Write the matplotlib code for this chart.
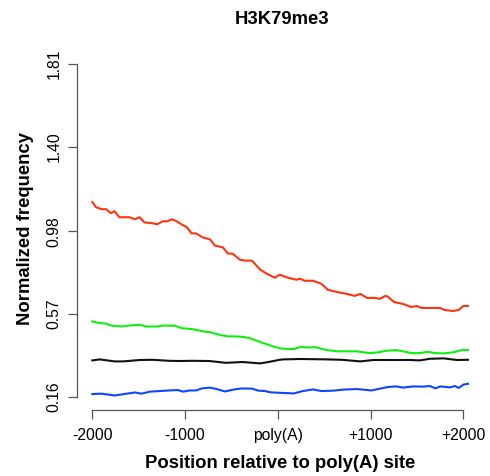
import matplotlib as mpl
mpl.use('Agg')
import matplotlib.pyplot as plt
import numpy as np

mpl.rcParams['font.family'] = ['Liberation Sans', 'DejaVu Sans']

# positions (bp relative to poly(A) site) and normalized frequencies
red_x = [-2000, -1960, -1900, -1850, -1800, -1760, -1710, -1600, -1540, -1490,
         -1440, -1350, -1300, -1240, -1190, -1140, -1090, -1040, -980, -930,
         -880, -810, -730, -680, -590, -540, -490, -410, -360, -280,
         -190, -120, -30, 20, 110, 200, 240, 290, 380, 470,
         540, 630, 740, 830, 890, 960, 1050, 1100, 1160, 1190,
         1250, 1350, 1440, 1500, 1550, 1640, 1750, 1800, 1890, 1950,
         2000, 2050]
red_y = [1.125, 1.10, 1.09, 1.09, 1.07, 1.08, 1.05, 1.05, 1.04, 1.05,
         1.025, 1.02, 1.015, 1.03, 1.03, 1.04, 1.03, 1.015, 1.00, 0.97,
         0.97, 0.95, 0.94, 0.91, 0.90, 0.87, 0.87, 0.84, 0.835, 0.835,
         0.79, 0.77, 0.75, 0.765, 0.75, 0.74, 0.745, 0.735, 0.735, 0.72,
         0.69, 0.68, 0.67, 0.66, 0.67, 0.65, 0.65, 0.645, 0.66, 0.655,
         0.63, 0.62, 0.605, 0.61, 0.60, 0.60, 0.60, 0.59, 0.585, 0.59,
         0.61, 0.61]

green_x = [-2000, -1920, -1850, -1800, -1690, -1600, -1490, -1420, -1300, -1240,
           -1110, -1040, -920, -810, -720, -630, -540, -450, -360, -280,
           -190, -90, -50, 20, 60, 170, 240, 350, 400, 530,
           650, 850, 990, 1080, 1170, 1280, 1350, 1440, 1530, 1610,
           1700, 1790, 1890, 2000, 2050]
green_y = [0.533, 0.525, 0.522, 0.513, 0.508, 0.513, 0.517, 0.508, 0.508, 0.513,
           0.512, 0.500, 0.495, 0.484, 0.479, 0.467, 0.459, 0.459, 0.456, 0.447,
           0.431, 0.416, 0.409, 0.400, 0.398, 0.396, 0.406, 0.404, 0.406, 0.391,
           0.385, 0.385, 0.376, 0.380, 0.388, 0.391, 0.385, 0.376, 0.376, 0.383,
           0.376, 0.375, 0.380, 0.393, 0.391]

black_x = [-2000, -1920, -1760, -1670, -1490, -1350, -1170, -1060, -920, -740,
           -560, -380, -190, -90, 20, 60, 240, 530, 690, 890,
           1030, 1250, 1420, 1530, 1640, 1790, 1930, 2050]
black_y = [0.340, 0.345, 0.335, 0.335, 0.342, 0.343, 0.338, 0.337, 0.338, 0.337,
           0.328, 0.332, 0.325, 0.333, 0.343, 0.345, 0.347, 0.345, 0.343, 0.335,
           0.342, 0.342, 0.342, 0.340, 0.348, 0.350, 0.342, 0.343]

blue_x = [-2000, -1900, -1760, -1630, -1540, -1470, -1380, -1270, -1170, -1080,
          -1020, -950, -880, -820, -730, -660, -570, -480, -390, -280,
          -210, -140, -70, -50, 170, 270, 380, 470, 600, 700,
          850, 1010, 1100, 1190, 1280, 1350, 1460, 1570, 1640, 1700,
          1750, 1860, 1910, 1950, 2000, 2050]
blue_y = [0.173, 0.175, 0.166, 0.175, 0.181, 0.175, 0.185, 0.188, 0.191, 0.193,
          0.185, 0.191, 0.191, 0.201, 0.205, 0.198, 0.186, 0.195, 0.201, 0.200,
          0.190, 0.188, 0.181, 0.181, 0.176, 0.188, 0.196, 0.188, 0.190, 0.195,
          0.198, 0.191, 0.200, 0.208, 0.211, 0.205, 0.211, 0.210, 0.213, 0.201,
          0.211, 0.206, 0.213, 0.203, 0.220, 0.224]

xticks = [-2000, -1000, 0, 1000, 2000]
xticklabels = ['-2000', '-1000', 'poly(A)', '+1000', '+2000']
yticks = [0.16, 0.57, 0.98, 1.40, 1.81]
yticklabels = ['0.16', '0.57', '0.98', '1.40', '1.81']

fig = plt.figure(figsize=(4.9, 4.76), dpi=100)
ax = fig.add_axes([77.3/490, 66.0/476, (483.0-77.3)/490, (410.0-50.7)/476])

series = [(red_x, red_y, '#ff3311'), (green_x, green_y, '#11ee11'),
          (black_x, black_y, '#111111'), (blue_x, blue_y, '#1144ff')]
for xs, ys, col in series:
    l, = ax.plot(xs, ys)
    plt.setp(l, color=col, linewidth=1.5, solid_joinstyle='round')

# R-like 4% padding around data range
ax.set_xlim(-2000 - 0.04*4050, 2050 + 0.04*4050)
ax.set_ylim(0.16 - 0.04*1.65, 1.81 + 0.04*1.65)

for s in ['top', 'right']:
    ax.spines[s].set_visible(False)
for s in ['left', 'bottom']:
    ax.spines[s].set_color('#555555')
    ax.spines[s].set_linewidth(0.9)
ax.spines['bottom'].set_bounds(-2000, 2000)
ax.spines['left'].set_bounds(0.16, 1.81)

ax.set_xticks(xticks)
ax.set_xticklabels(xticklabels)
ax.set_yticks(yticks)
ax.set_yticklabels(yticklabels, rotation=90, va='center')
ax.tick_params(axis='both', length=6.5, width=0.9, color='#555555', labelsize=11.3)
ax.tick_params(axis='x', pad=6.5)
ax.tick_params(axis='y', pad=5)

fig.text(282/490, 1 - 20/476, 'H3K79me3', ha='center', va='center', fontsize=13.3, fontweight='bold')
fig.text(280/490, 1 - 463/476, 'Position relative to poly(A) site', ha='center', va='center',
         fontsize=13.3, fontweight='bold')
fig.text(26/490, 1 - 229/476, 'Normalized frequency', ha='center', va='center', rotation=90,
         fontsize=13.3, fontweight='bold')

plt.savefig('out.png', dpi=100, facecolor='w')
plt.close(fig)
